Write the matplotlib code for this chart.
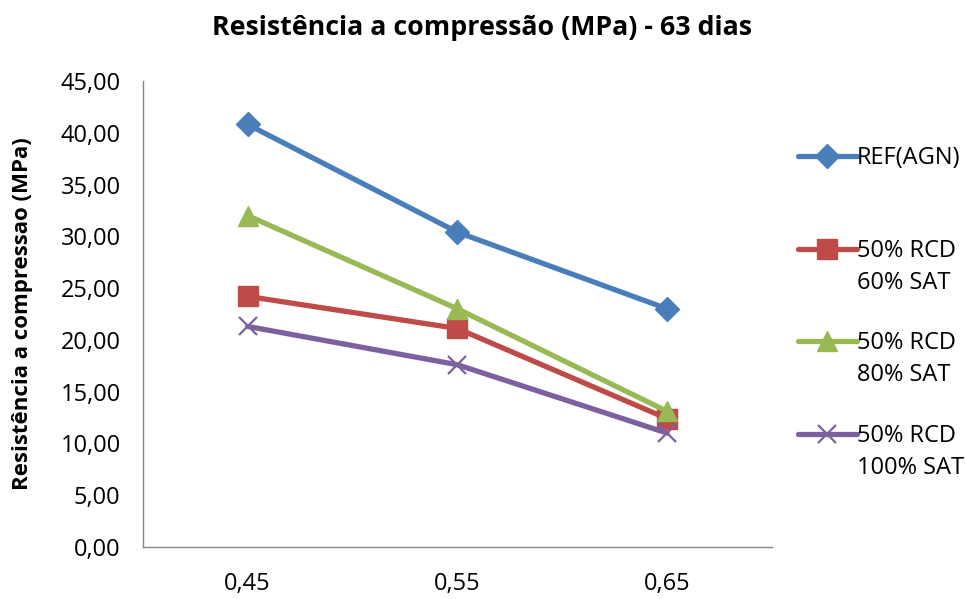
import matplotlib
matplotlib.use("Agg")
import matplotlib.pyplot as plt
import numpy as np

plt.rcParams['font.family'] = ['Open Sans', 'DejaVu Sans']

# a/c ratios (categories)
categorias = ["0,45", "0,55", "0,65"]

# compressive strength at 63 days (MPa)
ref_agn = [40.8, 30.4, 23.0]
rcd_60 = [24.2, 21.1, 12.4]
rcd_80 = [32.0, 23.0, 13.1]
rcd_100 = [21.3, 17.6, 11.0]

# legend labels: first line in the legend, second line added under it
nomes = ["REF(AGN)", "50% RCD", "50% RCD", "50% RCD"]
segunda_linha = ["", "60% SAT", "80% SAT", "100% SAT"]
cores = ["#4A7EBB", "#BE4B48", "#98B954", "#7D60A0"]
marcadores = ["D", "s", "^", "x"]
tamanhos = [12, 14, 14, 13]

fig = plt.figure(figsize=(9.65, 5.99), dpi=100)
ax = fig.add_axes([0.148, 0.0868, 0.652, 0.778])

x = np.arange(len(categorias))
series = [ref_agn, rcd_60, rcd_80, rcd_100]
for vals, nome, cor, mk, ms in zip(series, nomes, cores, marcadores, tamanhos):
    ax.plot(x, vals, color=cor, lw=3.8, marker=mk, ms=ms, mew=1.6 if mk == "x" else 1,
            label=nome, solid_capstyle="round")

ax.set_xlim(-0.5, 2.5)
ax.set_ylim(0, 45)
ax.set_xticks(x)
ax.set_xticklabels(categorias)
yt = np.arange(0, 46, 5)
ax.set_yticks(yt)
ax.set_yticklabels([f"{v:.2f}".replace(".", ",") for v in yt])
ax.tick_params(axis="y", length=0, labelsize=17, pad=16)
ax.tick_params(axis="x", length=0, labelsize=17, pad=18)
for s in ["top", "right"]:
    ax.spines[s].set_visible(False)
for s in ["left", "bottom"]:
    ax.spines[s].set_color("#868686")
    ax.spines[s].set_linewidth(1)

ax.set_ylabel("Resistência a compressao (MPa)", fontsize=16, fontweight="bold", labelpad=20)
fig.suptitle("Resistência a compressão (MPa) - 63 dias", fontsize=19.3, fontweight="bold",
             y=0.975)

leg = ax.legend(loc="upper left", bbox_to_anchor=(1.022, 0.885), frameon=False, fontsize=17,
                handlelength=2.5, handletextpad=0.0, labelspacing=2.9, borderpad=0)

# second line of each legend label, placed under the first one
fig.canvas.draw()
inv = fig.transFigure.inverted()
for txt, extra in zip(leg.get_texts(), segunda_linha):
    if extra:
        bb = txt.get_window_extent()
        x0, y0 = inv.transform((bb.x0, bb.y0 - 32))
        fig.text(x0, y0, extra, fontsize=17, va="bottom", ha="left")

fig.savefig("out.png", dpi=100)
